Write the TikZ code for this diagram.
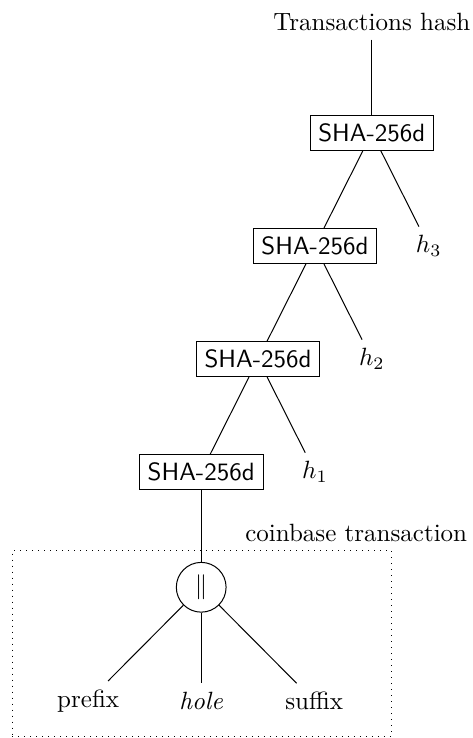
\documentclass[tikz,border=0pt]{standalone}
\begin{document}
\begin{tikzpicture}[hashbox/.style={draw, font=\sffamily}, concat/.style={draw, circle, minimum size=0.7cm, inner sep=0pt}]
                \useasboundingbox (0,0) rectangle (6.64,10.38);

                \node (root) at (5.23,10.07) {Transactions hash};
                \node[hashbox] (sha1) at (5.23,8.51) {SHA-256d};
                \node[hashbox] (sha2) at (4.43,6.92) {SHA-256d};
                \node[hashbox] (sha3) at (3.63,5.33) {SHA-256d};
                \node[hashbox] (sha4) at (2.83,3.74) {SHA-256d};
                \node (h3) at (6.03,6.92) {$h_3$};
                \node (h2) at (5.23,5.33) {$h_2$};
                \node (h1) at (4.43,3.74) {$h_1$};
                \draw (root)--(sha1);
                \draw (sha1)--(sha2);
                \draw (sha1)--(h3);
                \draw (sha2)--(sha3);
                \draw (sha2)--(h2);
                \draw (sha3)--(sha4);
                \draw (sha3)--(h1);

                % coinbase part
                \draw [dotted] (0.17,0.02)--(5.50,0.02)--(5.50,2.64)--(0.17,2.64)--cycle;
                \node (coinbase) at (5.01,2.88) {coinbase transaction};
                \node[concat] (cat) at (2.83,2.12) {$\|$};
                \node (prefix) at (1.24,0.52) {prefix};
                \node (hole) at (2.83,0.52) {\textit{hole}};
                \node (suffix) at (4.42,0.52) {suffix};
                \draw (sha4)--(cat);
                \draw (cat)--(prefix);
                \draw (cat)--(hole);
                \draw (cat)--(suffix);

\end{tikzpicture}
\end{document}
